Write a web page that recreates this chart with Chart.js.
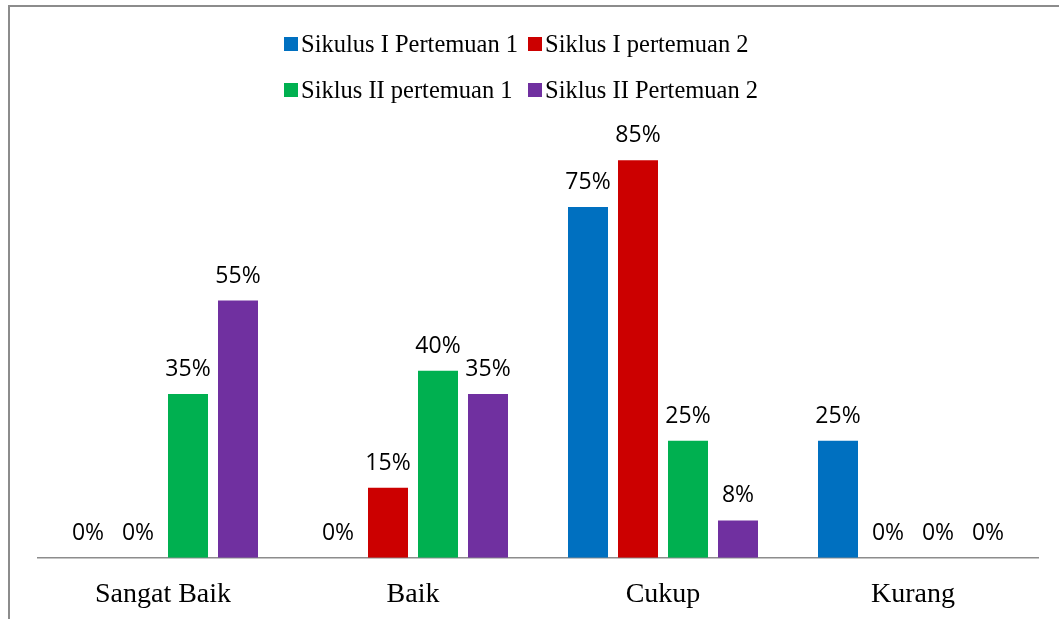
<!DOCTYPE html>
<html>
<head>
<meta charset="utf-8">
<script src="https://cdn.jsdelivr.net/npm/chart.js@4"></script>
<style>
  html, body { margin: 0; padding: 0; background: #fff; overflow: hidden; }
  #wrap { position: relative; width: 1059px; height: 619px; overflow: hidden; }
  #frame { position: absolute; left: 8px; top: 5px; width: 1120px; height: 700px;
           border: 2px solid #8c8c8c; box-sizing: border-box; }
  #chart { position: absolute; left: 0; top: 0; }
  #legend { position: absolute; left: 284px; top: 21px; display: grid;
            grid-template-columns: auto auto; column-gap: 10px; row-gap: 0;
            font-family: "Liberation Serif", serif; font-size: 24.5px; color: #000; }
  .item { display: flex; align-items: center; height: 46px; white-space: nowrap; }
  .box { width: 14px; height: 14px; margin-right: 3px; flex: none; }
</style>
</head>
<body>
<div id="wrap">
  <div id="frame"></div>
  <canvas id="chart" width="1059" height="631"></canvas>
  <div id="legend"></div>
</div>
<script>
// ================= DATA =================
const categories = ["Sangat Baik", "Baik", "Cukup", "Kurang"];
const seriesNames = ["Sikulus I Pertemuan 1", "Siklus I pertemuan 2", "Siklus II pertemuan 1", "Siklus II Pertemuan 2"];
const siklus1P1 = [0, 0, 75, 25];
const siklus1P2 = [0, 15, 85, 0];
const siklus2P1 = [35, 40, 25, 0];
const siklus2P2 = [55, 35, 8, 0];
const colors = ["#0070C0", "#CC0000", "#00B050", "#7030A0"];

const values = [siklus1P1, siklus1P2, siklus2P1, siklus2P2];

// ================= LEGEND =================
const legendEl = document.getElementById("legend");
seriesNames.forEach((name, i) => {
  legendEl.innerHTML += `<div class="item"><span class="box" style="background:${colors[i]}"></span>${name}</div>`;
});

// ================= LABELS =================
const valueLabels = {
  id: "valueLabels",
  afterDatasetsDraw(chart) {
    const ctx = chart.ctx;
    ctx.save();
    ctx.font = '23px "Open Sans"';
    ctx.fillStyle = "#000";
    ctx.textAlign = "center";
    ctx.textBaseline = "alphabetic";
    chart.data.datasets.forEach((ds, i) => {
      chart.getDatasetMeta(i).data.forEach((bar, j) => {
        ctx.fillText(ds.data[j] + "%", bar.x, bar.y - 18);
      });
    });
    ctx.restore();
  }
};

// ================= CHART =================
new Chart(document.getElementById("chart"), {
  type: "bar",
  data: {
    labels: categories,
    datasets: values.map((v, i) => ({
      label: seriesNames[i],
      data: v,
      backgroundColor: colors[i],
      categoryPercentage: 0.8,
      barPercentage: 0.8
    }))
  },
  options: {
    responsive: false,
    animation: false,
    layout: { padding: { left: 38, right: 21, top: 90, bottom: 0 } },
    plugins: {
      legend: { display: false },
      tooltip: { enabled: false }
    },
    scales: {
      x: {
        grid: { display: false, drawTicks: false },
        border: { color: "#8c8c8c", width: 1.5 },
        ticks: {
          color: "#000",
          padding: 24,
          font: { family: "Liberation Serif", size: 28, lineHeight: 0.9 }
        }
      },
      y: {
        display: false,
        min: 0,
        max: 100
      }
    }
  },
  plugins: [valueLabels]
});
</script>
</body>
</html>
